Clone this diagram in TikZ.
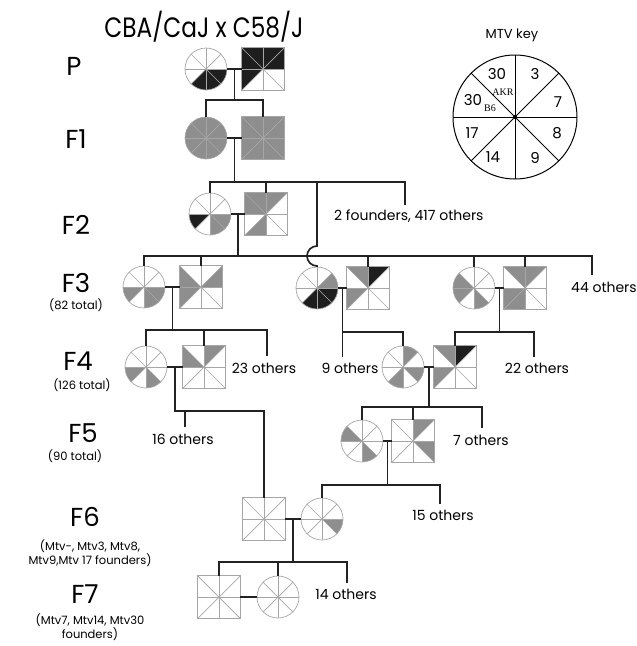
\documentclass[tikz,border=0pt]{standalone}
\usepackage{fontspec}
\setmainfont{Poppins}
\newfontfamily\keyserif{Liberation Serif}
\usetikzlibrary{calc}
\definecolor{cg}{HTML}{8E8E8E}
\definecolor{cb}{HTML}{1E1E1E}
\definecolor{cw}{HTML}{FFFFFF}
\definecolor{sl}{HTML}{A6A6A6}
\definecolor{ln}{HTML}{222222}
\tikzset{
  symc/.style={circle,minimum size=42pt,inner sep=0pt},
  syms/.style={rectangle,minimum size=42pt,inner sep=0pt},
  secline/.style={draw=sl,line width=0.7pt},
  conn/.style={draw=ln,line width=1.7pt},
  gen/.style={font=\fontsize{26}{28}\selectfont,inner sep=0pt},
  sub/.style={font=\fontsize{11.5}{13.5}\selectfont,inner sep=0pt,align=center},
  oth/.style={font=\fontsize{14}{16}\selectfont,inner sep=0pt},
  keynum/.style={font=\fontsize{15}{17}\selectfont,inner sep=0pt},
}
\newcommand\Rs{21pt}
\newcommand\pedcirc[3]{%
  \node[symc] (#1) at (#2) {};
  \foreach \c [count=\k] in {#3} {
    \pgfmathsetmacro\sa{90-45*\k}
    \fill[fill=c\c] (#1.center) -- ++(\sa:\Rs) arc[start angle=\sa, delta angle=45, radius=\Rs] -- cycle;
  }
  \foreach \a in {0,45,...,315} \draw[secline] (#1.center) -- ++(\a:\Rs);
  \draw[secline] (#1.center) circle[radius=\Rs];
}
\newcommand\pedsq[3]{%
  \node[syms] (#1) at (#2) {};
  \foreach \c [count=\k] in {#3} {
    \pgfmathsetmacro\sa{90-45*\k}
    \pgfmathsetmacro\sb{135-45*\k}
    \ifodd\k \def\ra{29.7pt}\def\rb{21pt}\else\def\ra{21pt}\def\rb{29.7pt}\fi
    \fill[fill=c\c] (#1.center) -- ($(#1.center)+(\sa:\ra)$) -- ($(#1.center)+(\sb:\rb)$) -- cycle;
  }
  \foreach \a/\r in {0/21pt,45/29.7pt,90/21pt,135/29.7pt,180/21pt,225/29.7pt,270/21pt,315/29.7pt}
    \draw[secline] (#1.center) -- ++(\a:\r);
  \draw[secline] (#1.north west) rectangle (#1.south east);
}
\begin{document}
\begin{tikzpicture}[x=1pt,y=-1pt]
\useasboundingbox (0,0) rectangle (637,646);
% title and labels
\node[font=\fontsize{28}{30}\selectfont,inner sep=0pt] (title) at (204,27) {\scalebox{0.83}[1]{CBA/CaJ x C58/J}};
\node[font=\fontsize{13}{15}\selectfont,inner sep=0pt] (keyt) at (512,35) {MTV key};
\node[gen] (lP) at (74,66) {P};
\node[gen] (lF1) at (76,139) {F1};
\node[gen] (lF2) at (76,225) {F2};
\node[gen] (lF3) at (76,283) {F3};
\node[sub] (tF3) at (76,305) {(82 total)};
\node[gen] (lF4) at (78,361) {F4};
\node[sub] (tF4) at (82,385) {(126 total)};
\node[gen] (lF5) at (83,433) {F5};
\node[sub] (tF5) at (75,456) {(90 total)};
\node[gen] (lF6) at (85,517) {F6};
\node[sub] (tF6) at (90,553) {(Mtv-, Mtv3, Mtv8,\\Mtv9,Mtv 17 founders)};
\node[gen] (lF7) at (85,594) {F7};
\node[sub] (tF7) at (90,627) {(Mtv7, Mtv14, Mtv30\\founders)};
% MTV key
\node[circle,draw=black,line width=1pt,minimum size=124pt,inner sep=0pt] (key) at (515,117) {};
\foreach \a in {0,45,...,315} \draw[black,line width=1pt] (key.center) -- ++(\a:62pt);
\fill (key.center) circle[radius=2pt];
\node[keynum] (k30a) at (497,74) {30};
\node[keynum] (k3) at (535,74) {3};
\node[keynum] (k7) at (558,102) {7};
\node[keynum] (k8) at (557,133) {8};
\node[keynum] (k9) at (535,158) {9};
\node[keynum] (k14) at (493,157) {14};
\node[keynum] (k17) at (472,133) {17};
\node[keynum] (k30b) at (473,100) {30};
\node[font=\keyserif\fontsize{10}{11}\selectfont,inner sep=0pt] (kB6) at (490,108) {B6};
\node[font=\keyserif\fontsize{10}{11}\selectfont,inner sep=0pt] (kAKR) at (503,92) {AKR};
% symbols: order of sectors 3,7,8,9,14,17,30B6,30AKR
\pedcirc{Pc}{206,69}{w,w,b,b,b,w,w,w}
\pedsq{Ps}{263,69}{b,b,w,w,w,b,b,b}
\pedcirc{F1c}{206,138}{g,g,g,g,g,g,g,g}
\pedsq{F1s}{263,138}{g,g,g,g,g,g,g,g}
\pedcirc{F2c}{210,214}{w,w,g,g,w,b,w,w}
\pedsq{F2s}{266,214}{g,w,w,w,g,w,g,g}
\pedcirc{F3ac}{144,287}{w,w,g,g,w,g,w,w}
\pedsq{F3as}{201,287}{w,g,w,w,w,g,g,w}
\pedcirc{F3bc}{317,288}{w,g,b,b,b,w,w,w}
\pedsq{F3bs}{368,288}{b,w,w,w,w,g,w,g}
\pedcirc{F3cc}{474,288}{w,w,w,g,w,g,g,w}
\pedsq{F3cs}{525,288}{g,w,w,w,g,g,w,g}
\pedcirc{F4ac}{146,367}{w,w,w,g,w,g,w,w}
\pedsq{F4as}{204,367}{g,w,w,w,w,w,g,w}
\pedcirc{F4bc}{403,367}{g,w,g,w,g,w,w,w}
\pedsq{F4bs}{455,367}{b,w,w,w,w,g,w,g}
\pedcirc{F5c}{362,441}{w,w,w,g,w,w,g,w}
\pedsq{F5s}{413,441}{g,w,g,w,w,w,w,w}
\pedsq{F6s}{264,519}{w,w,w,w,w,w,w,w}
\pedcirc{F6c}{322,519}{w,w,g,w,w,w,w,w}
\pedsq{F7s}{219,597}{w,w,w,w,w,w,w,w}
\pedcirc{F7c}{278,597}{w,w,w,w,w,w,w,w}
% P -> F1
\draw[conn] (Pc.east) -- (Ps.west);
\path ($(Pc.east)!.5!(Ps.west)$) coordinate (mP);
\draw[conn] (mP) -- (mP |- 0,100);
\draw[conn] (F1c.north) -- (F1c.north |- 0,100) -- (F1s.north |- 0,100) -- (F1s.north);
% F1 -> F2
\draw[conn] (F1c.east) -- (F1s.west);
\path ($(F1c.east)!.5!(F1s.west)$) coordinate (mF1);
\draw[conn] (mF1) -- (mF1 |- 0,182);
\coordinate (o417) at (405,205);
\draw[conn] (F2c.north) -- (F2c.north |- 0,182) -- (o417 |- 0,182) -- (o417);
\draw[conn] (F2s.north) -- (F2s.north |- 0,182);
\draw[conn] (F3bc.north |- 0,182) -- (F3bc.north |- 0,246) arc[start angle=90, delta angle=180, radius=10pt] -- (F3bc.north);
\node[oth,anchor=west] (n417) at (334,216) {2 founders, 417 others};
% F2 -> F3
\draw[conn] (F2c.east) -- (F2s.west);
\path ($(F2c.east)!.5!(F2s.west)$) coordinate (mF2);
\draw[conn] (mF2) -- (mF2 |- 0,256);
\coordinate (o44) at (592,275);
\draw[conn] (F3ac.north) -- (F3ac.north |- 0,256) -- (o44 |- 0,256) -- (o44);
\foreach \n in {F3as,F3bs,F3cc,F3cs} \draw[conn] (\n.north) -- (\n.north |- 0,256);
\node[oth,anchor=west] (n44) at (571,287) {44 others};
% F3a -> F4a
\draw[conn] (F3ac.east) -- (F3as.west);
\path ($(F3ac.east)!.5!(F3as.west)$) coordinate (mF3a);
\draw[conn] (mF3a) -- (mF3a |- 0,330);
\coordinate (o23) at (267,356);
\draw[conn] (F4ac.north) -- (F4ac.north |- 0,330) -- (o23 |- 0,330) -- (o23);
\draw[conn] (F4as.north) -- (F4as.north |- 0,330);
\node[oth] (n23) at (264,368) {23 others};
% F3b -> F4bc
\draw[conn] (F3bc.east) -- (F3bs.west);
\path ($(F3bc.east)!.5!(F3bs.west)$) coordinate (mF3b);
\coordinate (o9) at (mF3b |- 0,357);
\draw[conn] (mF3b) -- (o9);
\draw[conn] (mF3b |- 0,332) -- (F4bc.north |- 0,332) -- (F4bc.north);
\node[oth] (n9) at (350,368) {9 others};
% F3c -> F4bs
\draw[conn] (F3cc.east) -- (F3cs.west);
\path ($(F3cc.east)!.5!(F3cs.west)$) coordinate (mF3c);
\draw[conn] (mF3c) -- (mF3c |- 0,332);
\coordinate (o22) at (534,357);
\draw[conn] (F4bs.north) -- (F4bs.north |- 0,332) -- (o22 |- 0,332) -- (o22);
\node[oth] (n22) at (537,368) {22 others};
% F4a -> F6s
\draw[conn] (F4ac.east) -- (F4as.west);
\path ($(F4ac.east)!.5!(F4as.west)$) coordinate (mF4a);
\draw[conn] (mF4a) -- (mF4a |- 0,411) -- (F6s.north |- 0,411) -- (F6s.north);
\coordinate (o16) at (185,427);
\draw[conn] (o16 |- 0,411) -- (o16);
\node[oth] (n16) at (183,439) {16 others};
% F4b -> F5
\draw[conn] (F4bc.east) -- (F4bs.west);
\path ($(F4bc.east)!.5!(F4bs.west)$) coordinate (mF4b);
\draw[conn] (mF4b) -- (mF4b |- 0,407);
\coordinate (o7) at (482,428);
\draw[conn] (F5c.north) -- (F5c.north |- 0,407) -- (o7 |- 0,407) -- (o7);
\draw[conn] (F5s.north) -- (F5s.north |- 0,407);
\node[oth] (n7) at (481,440) {7 others};
% F5 -> F6c
\draw[conn] (F5c.east) -- (F5s.west);
\path ($(F5c.east)!.5!(F5s.west)$) coordinate (mF5);
\draw[conn] (mF5) -- (mF5 |- 0,485);
\coordinate (o15) at (440,504);
\draw[conn] (F6c.north) -- (F6c.north |- 0,485) -- (o15 |- 0,485) -- (o15);
\node[oth] (n15) at (443,515) {15 others};
% F6 -> F7
\draw[conn] (F6s.east) -- (F6c.west);
\path ($(F6s.east)!.5!(F6c.west)$) coordinate (mF6);
\draw[conn] (mF6) -- (mF6 |- 0,562);
\coordinate (o14) at (347,583);
\draw[conn] (F7s.north) -- (F7s.north |- 0,562) -- (o14 |- 0,562) -- (o14);
\draw[conn] (F7c.north) -- (F7c.north |- 0,562);
\draw[conn] (F7s.east) -- (F7c.west);
\node[oth] (n14) at (346,594) {14 others};
\end{tikzpicture}
\end{document}
